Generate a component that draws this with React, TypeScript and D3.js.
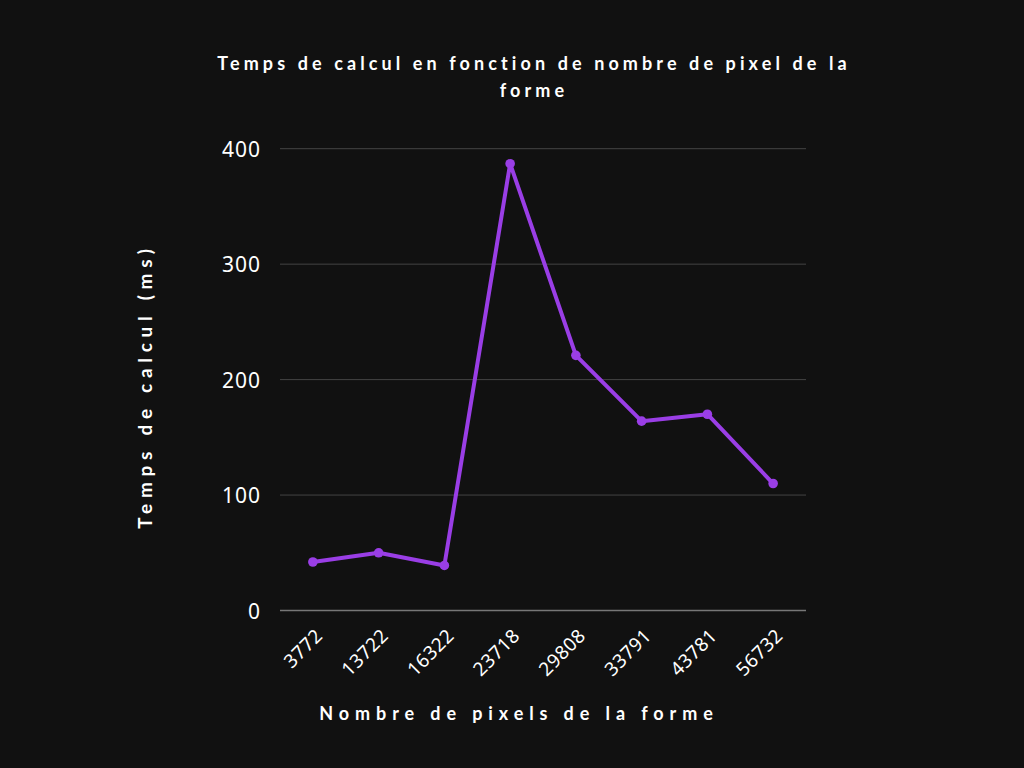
import React from 'react';
import * as d3 from 'd3';

const pixelCounts = ['3772', '13722', '16322', '23718', '29808', '33791', '43781', '56732'];
const timesMs = [42, 50, 39, 387, 221, 164, 170, 110];
const yTicks = [0, 100, 200, 300, 400];

export default function App() {
  const width = 1024,
    height = 768;
  const left = 280,
    right = 806,
    top = 148.7,
    bottom = 610.5;

  const x = d3.scalePoint<string>().domain(pixelCounts).range([left, right]).padding(0.5);
  const y = d3.scaleLinear().domain([0, 400]).range([bottom, top]);

  const points = pixelCounts.map((p, i) => ({ x: x(p) as number, y: y(timesMs[i]) }));
  const path = d3.line<{ x: number; y: number }>().x((d) => d.x).y((d) => d.y)(points) || '';

  const boldFont = 'Lato, "Open Sans", sans-serif';
  const tickFont = '"Noto Sans", Inter, sans-serif';

  return (
    <svg width={width} height={height} style={{ position: 'absolute', top: 0, left: 0 }}>
      <rect width={width} height={height} fill="#111111" />
      <text x={534} y={69.5} textAnchor="middle" fill="#fff" fontFamily={boldFont} fontWeight={700} fontSize={18} letterSpacing={4.1}>
        Temps de calcul en fonction de nombre de pixel de la
      </text>
      <text x={534} y={96.5} textAnchor="middle" fill="#fff" fontFamily={boldFont} fontWeight={700} fontSize={18} letterSpacing={4.1}>
        forme
      </text>

      {yTicks.map((t) => (
        <g key={t}>
          <line x1={left} x2={right} y1={y(t)} y2={y(t)} stroke={t === 0 ? '#777' : '#444'} strokeWidth={t === 0 ? 1.5 : 1} />
          <text x={261} y={y(t) + 8} textAnchor="end" fill="#fff" fontFamily={tickFont} fontWeight={400} fontSize={21} letterSpacing={1}>
            {t}
          </text>
        </g>
      ))}

      {pixelCounts.map((p) => (
        <text
          key={p}
          transform={`translate(${(x(p) as number) + 11},${637}) rotate(-45)`}
          textAnchor="end"
          fill="#fff"
          fontFamily={tickFont}
          fontWeight={400}
          fontSize={19}
          letterSpacing={0.5}
        >
          {p}
        </text>
      ))}

      <path d={path} fill="none" stroke="#9a3ee6" strokeWidth={4} strokeLinejoin="round" />
      {points.map((d, i) => (
        <circle key={i} cx={d.x} cy={d.y} r={4.8} fill="#9a3ee6" />
      ))}

      <text
        transform={`translate(152,386) rotate(-90)`}
        textAnchor="middle"
        fill="#fff"
        fontFamily={boldFont}
        fontWeight={700}
        fontSize={19}
        letterSpacing={5.7}
      >
        Temps de calcul (ms)
      </text>
      <text x={519} y={720} textAnchor="middle" fill="#fff" fontFamily={boldFont} fontWeight={700} fontSize={18} letterSpacing={5.9}>
        Nombre de pixels de la forme
      </text>
    </svg>
  );
}
